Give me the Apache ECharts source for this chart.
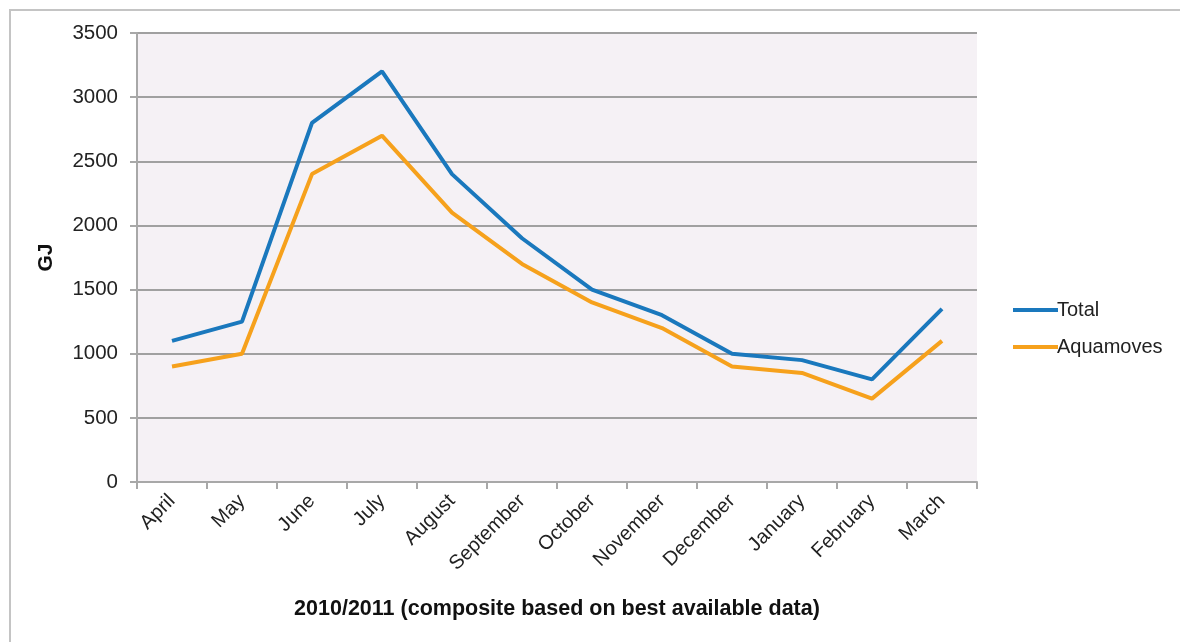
<!DOCTYPE html>
<html><head><meta charset="utf-8">
<script src="https://cdn.jsdelivr.net/npm/echarts@6/dist/echarts.min.js"></script>
<style>html,body{margin:0;padding:0;background:#fff}#c{width:1180px;height:642px}</style>
</head><body><div id="c"></div>
<script>
const months = ['April','May','June','July','August','September','October','November','December','January','February','March'];
const totalValues = [1100,1250,2800,3200,2400,1900,1500,1300,1000,950,800,1350];
const aquamovesValues = [900,1000,2400,2700,2100,1700,1400,1200,900,850,650,1100];
const yTicks = [0,500,1000,1500,2000,2500,3000,3500];

const font = '"Liberation Sans", Arial, sans-serif';
const chart = echarts.init(document.getElementById('c'), null, {renderer:'canvas'});
chart.setOption({
  animation:false,
  backgroundColor:'#fff',
  graphic:[{type:'rect',shape:{x:10,y:10,width:1200,height:700},style:{fill:'none',stroke:'#c4c4c4',lineWidth:2},z:-1}],
  grid:{left:137,right:203,top:33,bottom:160,show:true,backgroundColor:'#f5f1f5',borderWidth:0},
  legend:{
    orient:'vertical',left:1008,top:295,itemGap:17,itemWidth:45,itemHeight:4,
    icon:'rect',
    textStyle:{fontFamily:font,fontSize:20,color:'#222',padding:[0,0,0,-6]},
    data:['Total','Aquamoves']
  },
  xAxis:{
    type:'category',data:months,boundaryGap:true,
    axisLine:{lineStyle:{color:'#a8a8a8',width:2}},
    axisTick:{show:true,length:7,lineStyle:{color:'#a8a8a8',width:2}},
    axisLabel:{rotate:45,fontFamily:font,fontSize:20,color:'#222',margin:16,interval:0},
    name:'2010/2011 (composite based on best available data)',
    nameLocation:'middle',nameGap:116,
    nameTextStyle:{fontFamily:font,fontSize:21.5,fontWeight:'bold',color:'#111'}
  },
  yAxis:{
    type:'value',min:0,max:3500,interval:500,
    axisLine:{show:true,lineStyle:{color:'#a8a8a8',width:2}},
    axisTick:{show:true,length:7,lineStyle:{color:'#a8a8a8',width:2}},
    splitLine:{show:true,lineStyle:{color:'#a0a0a0',width:2}},
    axisLabel:{fontFamily:font,fontSize:20.5,color:'#222',margin:19,
      formatter:v=>yTicks.includes(v)?String(v):''},
    name:'GJ',nameLocation:'middle',nameGap:80,nameRotate:90,
    nameTextStyle:{fontFamily:font,fontSize:21,fontWeight:'bold',color:'#111'}
  },
  series:[
    {name:'Total',type:'line',data:totalValues,symbol:'none',lineStyle:{color:'#1a78bd',width:4},itemStyle:{color:'#1a78bd'},z:3},
    {name:'Aquamoves',type:'line',data:aquamovesValues,symbol:'none',lineStyle:{color:'#f6a11c',width:4},itemStyle:{color:'#f6a11c'},z:2}
  ]
});
</script></body></html>
